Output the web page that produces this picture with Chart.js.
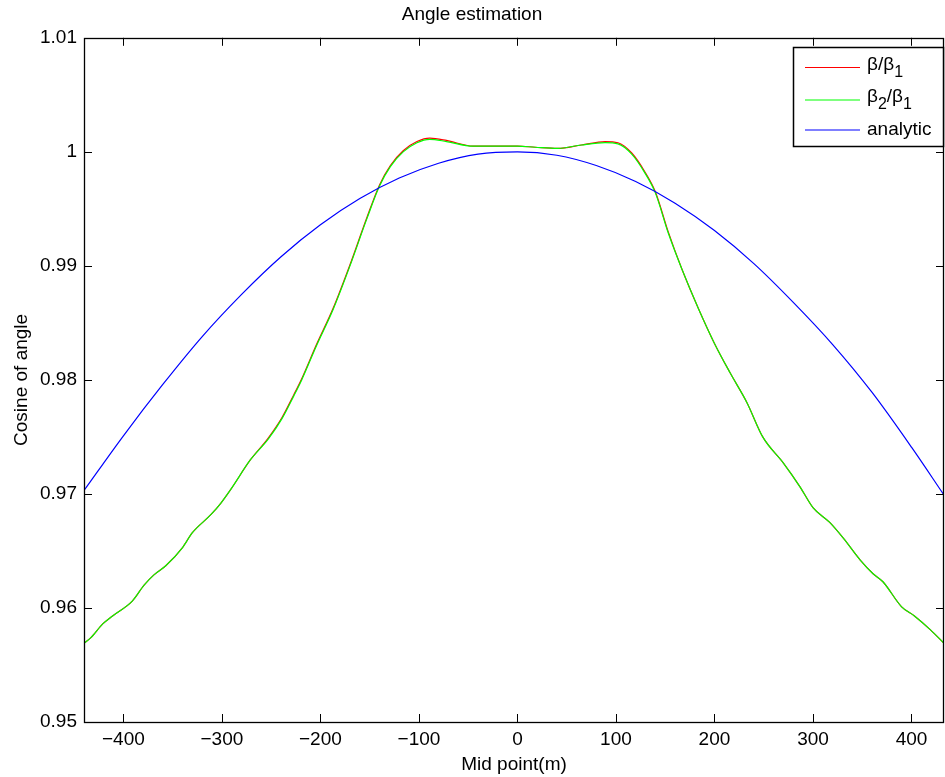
<!DOCTYPE html>
<html>
<head>
<meta charset="utf-8">
<script src="https://cdn.jsdelivr.net/npm/chart.js@4/dist/chart.umd.min.js"></script>
<style>
  html, body { margin: 0; padding: 0; background: #fff; }
  canvas { display: block; }
</style>
</head>
<body>
<canvas id="angleChart" width="945" height="777"></canvas>
<script>
// valeurs
const greenX = [-440, -433, -421, -411, -391, -379, -369, -357, -340, -330, -311, -301, -291, -271, -253, -239, -227, -219, -204, -187, -170, -153, -140, -129, -116, -102, -89, -72, -45, -18, 0, 18, 41, 65, 89, 102, 116, 129, 140, 153, 167, 184, 200, 216, 233, 249, 270, 287, 300, 317, 331, 348, 361, 371, 390, 403, 419, 433];
const greenY = [0.9569, 0.9574, 0.9586, 0.9593, 0.9606, 0.9620, 0.9629, 0.9637, 0.9653, 0.9666, 0.9682, 0.9692, 0.9704, 0.9730, 0.9748, 0.9766, 0.9786, 0.9800, 0.9830, 0.9862, 0.9900, 0.9941, 0.9970, 0.9987, 1.0000, 1.0008, 1.0011, 1.0009, 1.0005, 1.0005, 1.0005, 1.0004, 1.0003, 1.0006, 1.0008, 1.0007, 0.9998, 0.9982, 0.9964, 0.9929, 0.9897, 0.9862, 0.9832, 0.9806, 0.9780, 0.9750, 0.9727, 0.9706, 0.9688, 0.9675, 0.9661, 0.9642, 0.9630, 0.9623, 0.9601, 0.9593, 0.9581, 0.9569];
const redY = [0.9569, 0.9574, 0.9586, 0.9593, 0.9606, 0.9620, 0.9629, 0.9637, 0.9653, 0.9666, 0.9682, 0.9692, 0.9704, 0.9730, 0.9749, 0.9767, 0.9787, 0.9801, 0.9831, 0.9863, 0.9901, 0.9942, 0.9971, 0.9988, 1.0001, 1.0009, 1.0012, 1.0010, 1.0005, 1.0005, 1.0005, 1.0004, 1.0003, 1.0006, 1.0009, 1.0008, 0.9999, 0.9983, 0.9965, 0.9930, 0.9897, 0.9862, 0.9832, 0.9806, 0.9780, 0.9750, 0.9727, 0.9706, 0.9688, 0.9675, 0.9661, 0.9642, 0.9630, 0.9623, 0.9601, 0.9593, 0.9581, 0.9569];
const blueX = [-440, -400, -360, -320, -280, -240, -200, -160, -120, -80, -40, 0, 40, 80, 120, 160, 200, 240, 280, 320, 360, 400, 433];
const blueY = [0.9703, 0.9751, 0.9796, 0.9838, 0.9875, 0.9908, 0.9936, 0.9959, 0.9977, 0.9990, 0.9998, 1.0000, 0.9997, 0.9988, 0.9974, 0.9955, 0.9931, 0.9902, 0.9868, 0.9831, 0.9789, 0.9741, 0.9699];

const xTicks = [-400, -300, -200, -100, 0, 100, 200, 300, 400];
const yTicks = [0.95, 0.96, 0.97, 0.98, 0.99, 1.00, 1.01];
const seriesLabels = ["β/β_1", "β_2/β_1", "analytic"];

const FONT = "'Liberation Sans', Arial, Helvetica, sans-serif";
const toPoints = (xs, ys) => xs.map((x, i) => ({ x: x, y: ys[i] }));

// cadre + graduations vers l'intérieur (style MATLAB)
const boxTicks = {
    id: "boxTicks",
    afterDraw(chart) {
        const { ctx, chartArea: a, scales } = chart;
        const len = 8;
        ctx.save();
        ctx.strokeStyle = "#000";
        ctx.lineWidth = 1;
        ctx.beginPath();
        xTicks.forEach(v => {
            const px = Math.round(scales.x.getPixelForValue(v)) + 0.5;
            ctx.moveTo(px, a.bottom); ctx.lineTo(px, a.bottom - len);
            ctx.moveTo(px, a.top); ctx.lineTo(px, a.top + len);
        });
        yTicks.forEach(v => {
            const py = Math.round(scales.y.getPixelForValue(v)) + 0.5;
            ctx.moveTo(a.left, py); ctx.lineTo(a.left + len, py);
            ctx.moveTo(a.right, py); ctx.lineTo(a.right - len, py);
        });
        ctx.stroke();
        ctx.lineWidth = 1.3;
        ctx.strokeRect(Math.round(a.left) + 0.5, Math.round(a.top) + 0.5,
            Math.round(a.right - a.left) - 1, Math.round(a.bottom - a.top));
        ctx.restore();
    }
};

// légende avec indices
const subLegend = {
    id: "subLegend",
    afterDraw(chart) {
        const ctx = chart.ctx;
        const left = 793.5, top = 47.5, w = 150, h = 99;
        ctx.save();
        ctx.fillStyle = "#fff";
        ctx.fillRect(left, top, w, h);
        ctx.strokeStyle = "#000";
        ctx.lineWidth = 1.5;
        ctx.strokeRect(left, top, w, h);
        const rows = [67.5, 100, 130];
        chart.data.datasets.forEach((ds, i) => {
            const y = rows[i];
            ctx.strokeStyle = ds.borderColor;
            ctx.lineWidth = 1.2;
            ctx.beginPath();
            ctx.moveTo(805, y); ctx.lineTo(860, y);
            ctx.stroke();
            ctx.fillStyle = "#000";
            ctx.textBaseline = "middle";
            const hasSub = ds.label.indexOf("_") >= 0;
            let x = 867;
            ds.label.split(/(_\d)/).forEach(part => {
                if (!part) return;
                if (part[0] === "_") {
                    ctx.font = "16px " + FONT;
                    ctx.fillText(part.slice(1), x, y + 5);
                    x += ctx.measureText(part.slice(1)).width;
                } else {
                    ctx.font = "19px " + FONT;
                    ctx.fillText(part, x, hasSub ? y - 3 : y);
                    x += ctx.measureText(part).width;
                }
            });
        });
        ctx.restore();
    }
};

new Chart(document.getElementById("angleChart"), {
    type: "line",
    data: {
        datasets: [
            { label: seriesLabels[0], data: toPoints(greenX, redY), borderColor: "rgb(255,0,0)", order: 3 },
            { label: seriesLabels[1], data: toPoints(greenX, greenY), borderColor: "rgb(0,255,0)", order: 2 },
            { label: seriesLabels[2], data: toPoints(blueX, blueY), borderColor: "rgb(0,0,255)", order: 1 }
        ]
    },
    options: {
        responsive: false,
        animation: false,
        devicePixelRatio: 1,
        layout: { padding: { left: 0, right: 1, top: 0, bottom: 0 } },
        elements: {
            point: { radius: 0 },
            line: { borderWidth: 1.2, cubicInterpolationMode: "monotone", fill: false }
        },
        plugins: {
            legend: { display: false },
            tooltip: { enabled: false },
            title: {
                display: true,
                text: "Angle estimation",
                color: "#000",
                font: { family: FONT, size: 19, weight: "normal" },
                padding: { top: 3, bottom: 12 }
            }
        },
        scales: {
            x: {
                type: "linear",
                min: -440,
                max: 433,
                afterBuildTicks: s => { s.ticks = xTicks.map(v => ({ value: v })); },
                afterFit: s => { s.height = 55; },
                grid: { display: false, drawTicks: false },
                border: { display: false },
                ticks: {
                    color: "#000",
                    padding: 6,
                    maxRotation: 0,
                    font: { family: FONT, size: 19 },
                    callback: v => v < 0 ? "\u2212" + Math.abs(v) : String(v)
                },
                title: {
                    display: true,
                    text: "Mid point(m)",
                    color: "#000",
                    font: { family: FONT, size: 19 },
                    padding: { top: 0, bottom: 1 }
                }
            },
            y: {
                min: 0.95,
                max: 1.01,
                afterBuildTicks: s => { s.ticks = yTicks.map(v => ({ value: v })); },
                afterFit: s => { s.width = 84; },
                grid: { display: false, drawTicks: false },
                border: { display: false },
                ticks: {
                    color: "#000",
                    padding: 7,
                    font: { family: FONT, size: 19 },
                    callback: v => String(Number(v.toFixed(2)))
                },
                title: {
                    display: true,
                    text: "Cosine of angle",
                    color: "#000",
                    font: { family: FONT, size: 19 },
                    padding: { top: 10, bottom: 0 }
                }
            }
        }
    },
    plugins: [boxTicks, subLegend]
});
</script>
</body>
</html>
